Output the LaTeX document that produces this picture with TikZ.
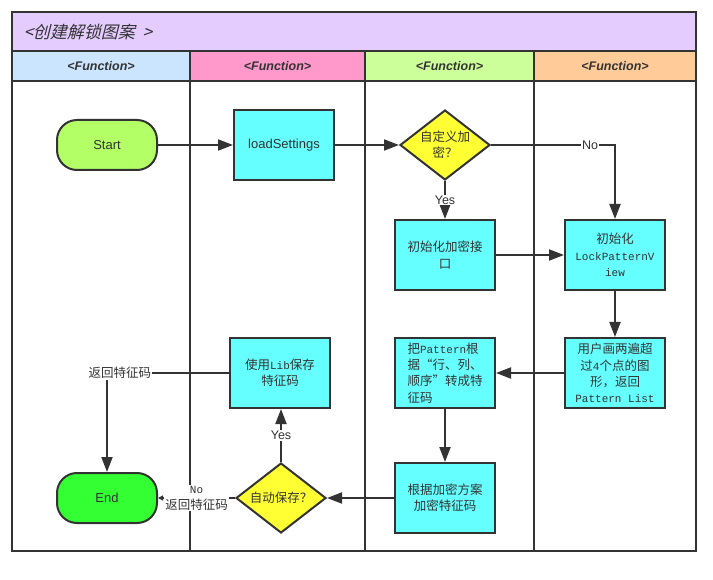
\documentclass[tikz,border=0pt]{standalone}
\usepackage{fontspec}
\setmainfont{Liberation Sans}
\newfontfamily\cjk{Noto Sans CJK SC}
\newfontfamily\cjkslant{Noto Sans CJK SC}[FakeSlant=0.25]
\newfontfamily\monof{Liberation Mono}
\newcommand{\mo}[1]{{\monof\fontsize{11}{16}\selectfont #1}}
\usetikzlibrary{shapes.geometric,arrows.meta}
\definecolor{ln}{HTML}{333333}
\definecolor{titlec}{HTML}{E5CCFF}
\definecolor{hA}{HTML}{CCE5FF}
\definecolor{hB}{HTML}{FF99CC}
\definecolor{hC}{HTML}{CCFF99}
\definecolor{hD}{HTML}{FFCC99}
\definecolor{cy}{HTML}{66FFFF}
\definecolor{ye}{HTML}{FFFF33}
\definecolor{sg}{HTML}{B3FF66}
\definecolor{eg}{HTML}{33FF33}
\tikzset{
  lane/.style={draw=ln, line width=2pt},
  proc/.style={draw=ln, line width=2pt, fill=cy, minimum width=100pt, minimum height=70pt,
    inner sep=2pt, align=center, text=ln, font=\cjk\fontsize{12.5}{16.3}\selectfont},
  term/.style={draw=ln, line width=2pt, rounded corners=20pt, minimum width=100pt, minimum height=50pt,
    inner sep=2pt, text=ln, font=\fontsize{13}{16}\selectfont},
  dia/.style={diamond, draw=ln, line width=2pt, fill=ye, minimum width=90pt, minimum height=70pt, inner sep=0pt},
  dtext/.style={align=center, text=ln, font=\cjk\fontsize{12.5}{16.3}\selectfont},
  conn/.style={draw=ln, line width=2pt, -{Triangle[length=15pt,width=11pt]}},
  lbl/.style={fill=white, inner sep=1pt, text=ln, font=\fontsize{12.5}{15}\selectfont},
  clbl/.style={fill=white, inner sep=1pt, align=center, text=ln, font=\cjk\fontsize{12.5}{16}\selectfont},
  hdr/.style={text=ln, font=\bfseries\itshape\fontsize{12.5}{15}\selectfont},
}
\begin{document}
\begin{tikzpicture}[x=1pt,y=-1pt]
\useasboundingbox (0,0) rectangle (713,580);
% background
\fill[titlec] (12,12) rectangle (696,51);
\fill[hA] (12,51) rectangle (190,81);
\fill[hB] (190,51) rectangle (365,81);
\fill[hC] (365,51) rectangle (534,81);
\fill[hD] (534,51) rectangle (696,81);
\node[anchor=west, text=ln, font=\cjkslant\fontsize{17}{19}\selectfont] (title) at (20,32) {<创建解锁图案\ \ >};
\node[hdr] (h1) at (101,66) {<Function>};
\node[hdr] (h2) at (277.5,66) {<Function>};
\node[hdr] (h3) at (449.5,66) {<Function>};
\node[hdr] (h4) at (615,66) {<Function>};
\draw[lane] (12,51) -- (696,51);
\draw[lane] (12,81) -- (696,81);
\draw[lane] (190,51) -- (190,551);
\draw[lane] (365,51) -- (365,551);
\draw[lane] (534,51) -- (534,551);
\draw[lane] (12,12) rectangle (696,551);
% nodes
\node[term, fill=sg] (start) at (107,145) {Start};
\node[proc, font=\fontsize{13}{16}\selectfont] (load) at (284,145) {loadSettings};
\node[dia] (d1) at (445,145) {};
\node[dtext] (d1t) at (d1) {自定义加\\密？};
\node[proc] (init) at (445,255) {初始化加密接\\口};
\node[proc] (lpv) at (615,255) {初始化\\\mo{LockPatternV}\\\mo{iew}};
\node[proc] (user) at (615,373) {用户画两遍超\\过\mo{4}个点的图\\形，返回\\\mo{Pattern List}};
\node[proc, align=left] (trans) at (445,373) {把\mo{Pattern}根\\据“行、列、\\顺序”转成特\\征码};
\node[proc] (enc) at (445,498) {根据加密方案\\加密特征码};
\node[dia] (d2) at (281,498) {};
\node[dtext] (d2t) at (d2) {自动保存？};
\node[proc] (lib) at (280,373) {使用\mo{Lib}保存\\特征码};
\node[term, fill=eg] (end) at (107,498) {End};
% connectors
\draw[conn] (start) -- (load);
\draw[conn] (load) -- (d1);
\draw[conn] (d1.east) -| node[lbl, pos=0.4] {No} (lpv.north);
\draw[conn] (d1.south) -- node[lbl, pos=0.5] {Yes} (init.north);
\draw[conn] (init) -- (lpv);
\draw[conn] (lpv) -- (user);
\draw[conn] (user) -- (trans);
\draw[conn] (trans) -- (enc);
\draw[conn] (enc) -- (d2.east);
\draw[conn] (d2.north) -- node[lbl, pos=0.5] {Yes} (d2.north |- lib.south);
\draw[draw=ln, line width=2pt, -{Triangle[length=5pt,width=5pt]}] (d2.west) -- node[clbl, pos=0.5] {\mo{No}\\返回特征码} (end.east);
\draw[conn] (lib.west) -| node[clbl, pos=0.447] {返回特征码} (end.north);
\end{tikzpicture}
\end{document}
